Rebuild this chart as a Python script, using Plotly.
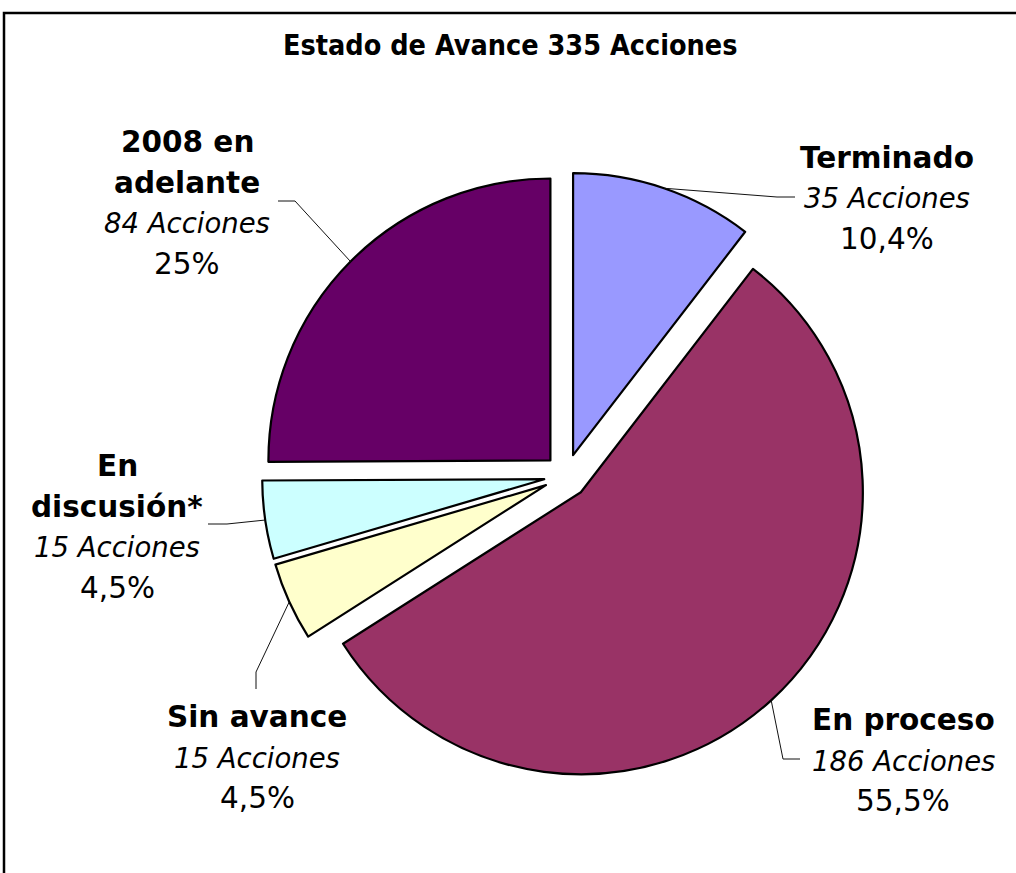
import math
import plotly.graph_objects as go

# ---- data ----
categories = ["Terminado", "En proceso", "Sin avance", "En discusión*", "2008 en adelante"]
acciones = [35, 186, 15, 15, 84]
percent_labels = ["10,4%", "55,5%", "4,5%", "4,5%", "25%"]
name_lines = [["Terminado"], ["En proceso"], ["Sin avance"], ["En", "discusión*"], ["2008 en", "adelante"]]
title_text = "Estado de Avance 335 Acciones"

# ---- style / layout ----
colors = ["#9999FF", "#993366", "#FFFFCC", "#CCFFFF", "#660066"]
W, H = 1016, 873
CX, CY, R = 566, 476, 282          # pie centre and radius in pixels
PULL = 0.078                       # explode fraction
FONT = "DejaVu Sans, Verdana, Tahoma, sans-serif"
TITLE_FONT = "DejaVu Sans Condensed, DejaVu Sans, sans-serif"
LINE_GAP = 40.5
SIZE_BOLD, SIZE_ITALIC, SIZE_PCT = 29.5, 27.5, 29.5

# label block: (centre x, first line y) and leader line (end point, elbow point)
label_pos = [(887, 158), (903, 720), (257, 717), (117, 466), (187, 142)]
leader_pts = [((795, 197), (777, 197)),
              ((800, 759), (783, 759)),
              ((256, 689), (256, 672)),
              ((208, 524), (227, 524)),
              ((278, 201), (295, 201))]


def px(x):
    return x / W


def py(y):
    return 1 - y / H


half = R * (1 + PULL)
fig = go.Figure(go.Pie(
    labels=categories,
    values=acciones,
    sort=False,
    direction="clockwise",
    rotation=0,
    pull=[PULL] * len(acciones),
    marker=dict(colors=colors, line=dict(color="black", width=2.2)),
    textinfo="none",
    hoverinfo="label+value+percent",
    showlegend=False,
    domain=dict(x=[px(CX - half), px(CX + half)], y=[py(CY + half), py(CY - half)]),
))

annotations = [dict(text="<b>" + title_text + "</b>", x=px(510), y=py(45),
                    xref="paper", yref="paper", xanchor="center", yanchor="middle",
                    showarrow=False, font=dict(family=TITLE_FONT, size=28.5, color="black"))]
shapes = []

total = sum(acciones)
cum = 0
for i, v in enumerate(acciones):
    mid = (cum + v / 2) / total * 360
    cum += v
    t = math.radians(mid)
    ax = CX + half * math.sin(t)
    ay = CY - half * math.cos(t)
    (ex, ey), (bx, by) = leader_pts[i]
    shapes.append(dict(type="path", xref="paper", yref="paper",
                       path=f"M {px(ax)},{py(ay)} L {px(bx)},{py(by)} L {px(ex)},{py(ey)}",
                       line=dict(color="#111111", width=1)))
    lx, ly = label_pos[i]
    lines = [("<b>" + s + "</b>", SIZE_BOLD) for s in name_lines[i]]
    lines.append(("<i>" + f"{v} Acciones" + "</i>", SIZE_ITALIC))
    lines.append((percent_labels[i], SIZE_PCT))
    for j, (txt, size) in enumerate(lines):
        annotations.append(dict(text=txt, x=px(lx), y=py(ly + j * LINE_GAP),
                                xref="paper", yref="paper", xanchor="center", yanchor="middle",
                                showarrow=False, font=dict(family=FONT, size=size, color="black")))

# outer chart border
shapes.append(dict(type="rect", xref="paper", yref="paper",
                   x0=px(4), x1=px(W + 10), y0=py(H + 10), y1=py(13),
                   line=dict(color="black", width=2.5), fillcolor="rgba(0,0,0,0)"))

fig.update_layout(
    width=W, height=H,
    margin=dict(l=0, r=0, t=0, b=0),
    paper_bgcolor="white", plot_bgcolor="white",
    annotations=annotations, shapes=shapes,
    font=dict(family=FONT, color="black"),
)
fig.write_html("out.html", config={"displayModeBar": False},
               post_script="document.body.style.margin='0';document.body.style.overflow='hidden';")
